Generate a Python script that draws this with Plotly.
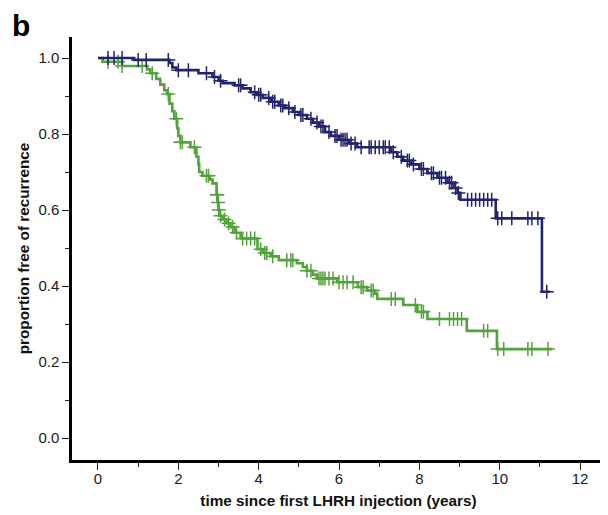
import numpy as np
import plotly.graph_objects as go

# ---- data ----
blue_t = [0, 0.9, 1.78, 1.85, 1.95, 2.5, 2.85, 3.0, 3.1, 3.4, 3.6, 3.8, 3.95, 4.1, 4.3, 4.5,
          4.65, 4.85, 5.0, 5.2, 5.35, 5.5, 5.65, 5.8, 6.0, 6.25, 6.45, 7.3, 7.45, 7.6, 7.8,
          8.0, 8.2, 8.45, 8.7, 8.85, 8.95, 9.02, 9.9, 11.05]
blue_s = [1.0, 0.995, 0.987, 0.975, 0.968, 0.96, 0.95, 0.94, 0.934, 0.928, 0.92, 0.91, 0.903,
          0.895, 0.885, 0.875, 0.868, 0.858, 0.85, 0.84, 0.83, 0.82, 0.805, 0.795, 0.785,
          0.775, 0.765, 0.752, 0.74, 0.73, 0.72, 0.708, 0.697, 0.685, 0.672, 0.658, 0.645,
          0.627, 0.578, 0.385]
blue_end = 11.25
blue_cens = [0.25, 0.4, 0.6, 1.0, 1.2, 1.75, 2.0, 2.25, 2.7, 2.9, 3.05, 3.5, 3.55, 3.9, 4.0,
             4.05, 4.25, 4.35, 4.4, 4.55, 4.6, 4.75, 4.9, 5.05, 5.1, 5.3, 5.45, 5.55, 5.6,
             5.75, 5.9, 5.95, 6.05, 6.1, 6.15, 6.2, 6.3, 6.4, 6.55, 6.75, 6.8, 6.9, 7.0, 7.1,
             7.15, 7.25, 7.35, 7.55, 7.7, 7.75, 7.85, 8.05, 8.1, 8.3, 8.35, 8.5, 8.55, 8.65,
             8.75, 8.8, 8.9, 8.97, 9.2, 9.3, 9.4, 9.5, 9.6, 9.7, 9.8, 9.95, 10.05, 10.3, 10.7,
             10.8, 10.95, 11.17]

green_t = [0, 0.12, 0.6, 1.22, 1.3, 1.45, 1.55, 1.65, 1.72, 1.78, 1.85, 1.9, 1.97, 2.0, 2.05,
           2.3, 2.45, 2.5, 2.52, 2.6, 2.78, 2.85, 2.95, 2.98, 3.0, 3.02, 3.1, 3.2, 3.3, 3.4,
           3.55, 3.97, 4.1, 4.3, 4.5, 4.95, 5.1, 5.2, 5.35, 5.45, 5.95, 6.47, 6.7, 6.9, 6.95,
           7.6, 7.95, 8.2, 9.18, 9.93]
green_s = [1.0, 0.99, 0.979, 0.97, 0.96, 0.945, 0.93, 0.915, 0.905, 0.88, 0.86, 0.84, 0.815,
           0.795, 0.778, 0.765, 0.74, 0.72, 0.70, 0.69, 0.68, 0.67, 0.64, 0.62, 0.60, 0.585,
           0.575, 0.565, 0.555, 0.54, 0.525, 0.497, 0.487, 0.478, 0.468, 0.46, 0.45, 0.44,
           0.43, 0.42, 0.41, 0.397, 0.388, 0.38, 0.366, 0.35, 0.332, 0.313, 0.282, 0.234]
green_end = 11.3
green_cens = [0.25, 0.5, 0.6, 1.1, 1.35, 1.75, 1.95, 2.05, 2.1, 2.4, 2.7, 2.75, 2.96, 2.97,
              2.99, 3.01, 3.05, 3.15, 3.25, 3.35, 3.45, 3.6, 3.7, 3.8, 3.9, 4.05, 4.15, 4.2,
              4.35, 4.7, 4.8, 4.85, 5.2, 5.3, 5.5, 5.55, 5.6, 5.65, 5.75, 5.85, 6.0, 6.1, 6.2,
              6.35, 6.55, 6.6, 6.8, 6.85, 7.3, 7.4, 7.9, 8.05, 8.1, 8.5, 8.75, 8.85, 8.95,
              9.05, 9.6, 9.7, 9.95, 10.1, 10.7, 10.8, 11.2]

x_ticks = [0, 2, 4, 6, 8, 10, 12]
y_ticks = [0.0, 0.2, 0.4, 0.6, 0.8, 1.0]
y_tick_labels = ["0.0", "0.2", "0.4", "0.6", "0.8", "1.0"]

BLUE = "#23236e"
GREEN = "#54a23c"


def step_value(times, vals, t):
    idx = np.searchsorted(np.asarray(times), np.asarray(t), side="right") - 1
    return np.asarray(vals)[idx]


fig = go.Figure()
for times, vals, end, cens, col in [
    (green_t, green_s, green_end, green_cens, GREEN),
    (blue_t, blue_s, blue_end, blue_cens, BLUE),
]:
    fig.add_trace(go.Scatter(
        x=list(times) + [end], y=list(vals) + [vals[-1]],
        mode="lines", line=dict(color=col, width=2.6, shape="hv"),
        hoverinfo="skip", showlegend=False))
    fig.add_trace(go.Scatter(
        x=cens, y=step_value(times, vals, cens),
        mode="markers",
        marker=dict(symbol="cross-thin", size=10, line=dict(color=col, width=1.5)),
        showlegend=False))

axis_font = dict(family="Liberation Sans, Arial, sans-serif", size=15, color="#1a1a1a")
title_font = dict(family="Liberation Sans, Arial, sans-serif", size=15.3, color="#111111")

fig.update_layout(
    width=600, height=507,
    margin=dict(l=64, r=3, t=29, b=55),
    paper_bgcolor="white", plot_bgcolor="white",
    xaxis=dict(
        range=[-0.647, 12.62], tickvals=x_ticks, ticktext=[str(v) for v in x_ticks],
        showline=True, linecolor="black", linewidth=2.5, showgrid=False, zeroline=False,
        ticks="outside", ticklen=7, tickwidth=1.3, tickcolor="#222",
        minor=dict(ticks="outside", ticklen=4, tickwidth=1.3, tickcolor="#222", dtick=1, tick0=1),
        tickfont=axis_font, ticklabelstandoff=-4,
        title=dict(text="<b>time since first LHRH injection (years)</b>", font=title_font, standoff=10),
        automargin=False,
    ),
    yaxis=dict(
        range=[-0.0579, 1.0553], tickvals=y_ticks, ticktext=y_tick_labels,
        showline=True, linecolor="black", linewidth=2.5, showgrid=False, zeroline=False,
        ticks="outside", ticklen=7, tickwidth=1.3, tickcolor="#222",
        minor=dict(ticks="outside", ticklen=4, tickwidth=1.3, tickcolor="#222", dtick=0.1, tick0=0.1),
        tickfont=axis_font,
        title=dict(text="<b>proportion free of recurrence</b>", font=title_font, standoff=6),
        automargin=False,
    ),
    annotations=[dict(
        text="<b>b</b>", xref="paper", yref="paper", x=-0.117, y=1.072,
        xanchor="left", yanchor="top", showarrow=False,
        font=dict(family="Liberation Sans, Arial, sans-serif", size=30, color="black"))],
)

fig.write_html("out.html")
